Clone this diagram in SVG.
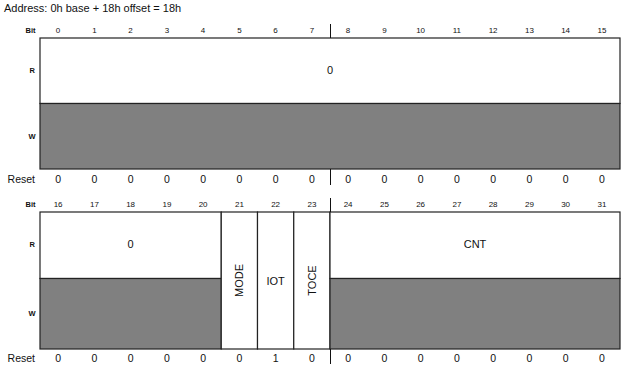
<svg xmlns="http://www.w3.org/2000/svg" width="630" height="368" viewBox="0 0 630 368">
<style>
text{font-family:"Liberation Sans",Arial,sans-serif;fill:#111}
.t{font-size:11px}
.b{font-size:8px;text-anchor:middle}
.lbl{font-size:7.5px;text-anchor:end;font-weight:bold}
.rs{font-size:10.5px;text-anchor:end}
.v{font-size:10.5px;text-anchor:middle}
.f{font-size:11px;text-anchor:middle}
.box{fill:#fff;stroke:#222;stroke-width:1.2}
.g{fill:#808080;stroke:#222;stroke-width:1.2}
.tick{stroke:#111;stroke-width:1;fill:none}
</style>
<text class="t" x="4" y="11.5">Address: 0h base + 18h offset = 18h</text>

<g id="reg-low">
<text class="lbl" x="35.5" y="32.5">Bit</text>
<g class="bits">
<text class="b" x="58.1" y="32.8">0</text><text class="b" x="94.4" y="32.8">1</text><text class="b" x="130.6" y="32.8">2</text><text class="b" x="166.9" y="32.8">3</text><text class="b" x="203.1" y="32.8">4</text><text class="b" x="239.4" y="32.8">5</text><text class="b" x="275.6" y="32.8">6</text><text class="b" x="311.9" y="32.8">7</text><text class="b" x="348.1" y="32.8">8</text><text class="b" x="384.4" y="32.8">9</text><text class="b" x="420.6" y="32.8">10</text><text class="b" x="456.9" y="32.8">11</text><text class="b" x="493.1" y="32.8">12</text><text class="b" x="529.4" y="32.8">13</text><text class="b" x="565.6" y="32.8">14</text><text class="b" x="601.9" y="32.8">15</text>
</g>
<text class="lbl" x="35" y="72.5">R</text>
<text class="lbl" x="35.5" y="138.5">W</text>
<rect class="box" x="40" y="38" width="580" height="65.5"/>
<rect class="g" x="40" y="103.5" width="580" height="65.5"/>
<text class="f" x="330" y="74">0</text>
<text class="rs" x="35" y="183">Reset</text>
<g class="reset">
<text class="v" x="58.1" y="183">0</text><text class="v" x="94.4" y="183">0</text><text class="v" x="130.6" y="183">0</text><text class="v" x="166.9" y="183">0</text><text class="v" x="203.1" y="183">0</text><text class="v" x="239.4" y="183">0</text><text class="v" x="275.6" y="183">0</text><text class="v" x="311.9" y="183">0</text><text class="v" x="348.1" y="183">0</text><text class="v" x="384.4" y="183">0</text><text class="v" x="420.6" y="183">0</text><text class="v" x="456.9" y="183">0</text><text class="v" x="493.1" y="183">0</text><text class="v" x="529.4" y="183">0</text><text class="v" x="565.6" y="183">0</text><text class="v" x="601.9" y="183">0</text>
</g>
</g>

<g id="reg-high">
<text class="lbl" x="35.5" y="207">Bit</text>
<g class="bits">
<text class="b" x="58.1" y="207.3">16</text><text class="b" x="94.4" y="207.3">17</text><text class="b" x="130.6" y="207.3">18</text><text class="b" x="166.9" y="207.3">19</text><text class="b" x="203.1" y="207.3">20</text><text class="b" x="239.4" y="207.3">21</text><text class="b" x="275.6" y="207.3">22</text><text class="b" x="311.9" y="207.3">23</text><text class="b" x="348.1" y="207.3">24</text><text class="b" x="384.4" y="207.3">25</text><text class="b" x="420.6" y="207.3">26</text><text class="b" x="456.9" y="207.3">27</text><text class="b" x="493.1" y="207.3">28</text><text class="b" x="529.4" y="207.3">29</text><text class="b" x="565.6" y="207.3">30</text><text class="b" x="601.9" y="207.3">31</text>
</g>
<text class="lbl" x="35" y="246.5">R</text>
<text class="lbl" x="35.5" y="315.5">W</text>
<g id="f-res">
<rect class="box" x="40" y="212" width="181.25" height="66.5"/>
<rect class="g" x="40" y="278.5" width="181.25" height="70.5"/>
<text class="f" x="130.6" y="248">0</text>
</g>
<g id="f-mode">
<rect class="box" x="221.25" y="212" width="36.25" height="137"/>
<text class="f" transform="translate(243.3 280.5) rotate(-90)">MODE</text>
</g>
<g id="f-iot">
<rect class="box" x="257.5" y="212" width="36.25" height="137"/>
<text class="f" x="275.6" y="284.5">IOT</text>
</g>
<g id="f-toce">
<rect class="box" x="293.75" y="212" width="36.25" height="137"/>
<text class="f" transform="translate(315.8 280.5) rotate(-90)">TOCE</text>
</g>
<g id="f-cnt">
<rect class="box" x="330" y="212" width="290" height="66.5"/>
<rect class="g" x="330" y="278.5" width="290" height="70.5"/>
<text class="f" x="475" y="248">CNT</text>
</g>
<text class="rs" x="35" y="362">Reset</text>
<g class="reset">
<text class="v" x="58.1" y="362">0</text><text class="v" x="94.4" y="362">0</text><text class="v" x="130.6" y="362">0</text><text class="v" x="166.9" y="362">0</text><text class="v" x="203.1" y="362">0</text><text class="v" x="239.4" y="362">0</text><text class="v" x="275.6" y="362">1</text><text class="v" x="311.9" y="362">0</text><text class="v" x="348.1" y="362">0</text><text class="v" x="384.4" y="362">0</text><text class="v" x="420.6" y="362">0</text><text class="v" x="456.9" y="362">0</text><text class="v" x="493.1" y="362">0</text><text class="v" x="529.4" y="362">0</text><text class="v" x="565.6" y="362">0</text><text class="v" x="601.9" y="362">0</text>
</g>
</g>

<g id="connectors">
<path class="tick" d="M330.5 24V38M330.5 169V185M330.5 198V212M330.5 349V364"/>
</g>
</svg>
